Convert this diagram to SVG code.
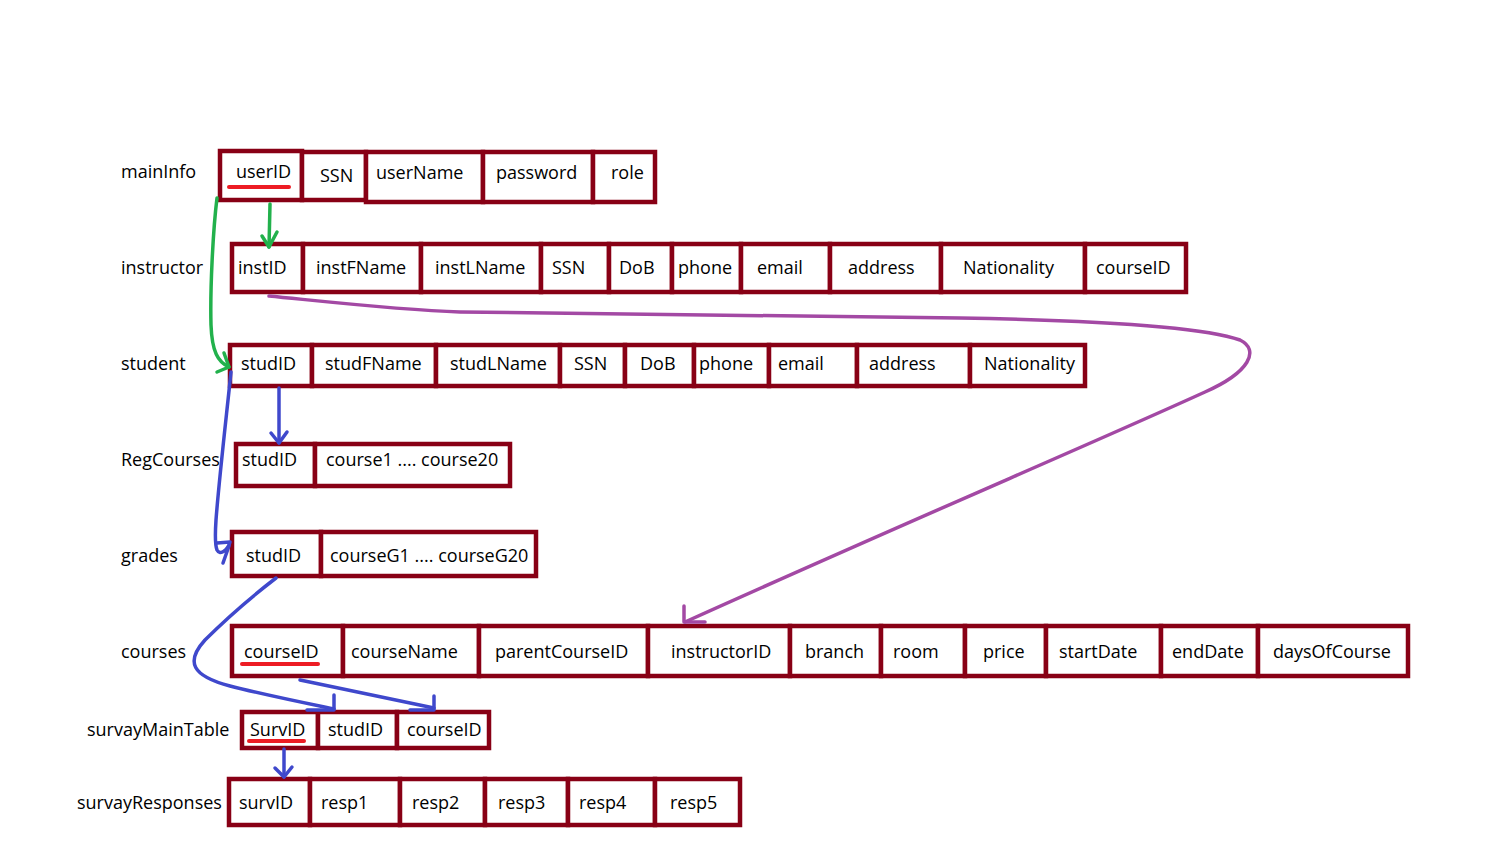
<svg xmlns="http://www.w3.org/2000/svg" width="1496" height="857" viewBox="0 0 1496 857">
  <style>
    .cell { fill: #ffffff; stroke: #880015; stroke-width: 4.5; }
    .lbl { font-family: "Open Sans", "Noto Sans", "DejaVu Sans", sans-serif; font-size: 18px; fill: #000000; }
    .key { stroke: #ed1c24; stroke-width: 4; stroke-linecap: round; fill: none; }
    .green { stroke: #22b14c; stroke-width: 3.5; fill: none; stroke-linecap: round; stroke-linejoin: round; }
    .purple { stroke: #a349a4; stroke-width: 3.5; fill: none; stroke-linecap: round; stroke-linejoin: round; }
    .blue { stroke: #3f48cc; stroke-width: 3.5; fill: none; stroke-linecap: round; stroke-linejoin: round; }
  </style>
  <rect width="1496" height="857" fill="#ffffff"/>

  <!-- table names -->
  <g id="table-names" class="lbl">
    <text x="121" y="178">mainInfo</text>
    <text x="121" y="274">instructor</text>
    <text x="121" y="370">student</text>
    <text x="121" y="466">RegCourses</text>
    <text x="121" y="562">grades</text>
    <text x="121" y="658">courses</text>
    <text x="87" y="736">survayMainTable</text>
    <text x="77" y="809">survayResponses</text>
  </g>

  <g id="mainInfo">
    <rect class="cell" x="220" y="151" width="82" height="49"/>
    <rect class="cell" x="302" y="152" width="64" height="48"/>
    <rect class="cell" x="366" y="152" width="117" height="50"/>
    <rect class="cell" x="483" y="152" width="110" height="50"/>
    <rect class="cell" x="593" y="152" width="62" height="50"/>
    <g class="lbl">
      <text x="236" y="178">userID</text>
      <text x="320" y="182">SSN</text>
      <text x="376" y="179">userName</text>
      <text x="496" y="179">password</text>
      <text x="611" y="179">role</text>
    </g>
    <line class="key" x1="229" y1="187" x2="289" y2="187"/>
  </g>

  <g id="instructor">
    <rect class="cell" x="232" y="244" width="71" height="48"/>
    <rect class="cell" x="303" y="244" width="118" height="48"/>
    <rect class="cell" x="421" y="244" width="120" height="48"/>
    <rect class="cell" x="541" y="244" width="68" height="48"/>
    <rect class="cell" x="609" y="244" width="63" height="48"/>
    <rect class="cell" x="672" y="244" width="69" height="48"/>
    <rect class="cell" x="741" y="244" width="89" height="48"/>
    <rect class="cell" x="830" y="244" width="111" height="48"/>
    <rect class="cell" x="941" y="244" width="144" height="48"/>
    <rect class="cell" x="1085" y="244" width="101" height="48"/>
    <g class="lbl">
      <text x="238" y="274">instID</text>
      <text x="316" y="274">instFName</text>
      <text x="435" y="274">instLName</text>
      <text x="552" y="274">SSN</text>
      <text x="619" y="274">DoB</text>
      <text x="678" y="274">phone</text>
      <text x="757" y="274">email</text>
      <text x="848" y="274">address</text>
      <text x="963" y="274">Nationality</text>
      <text x="1096" y="274">courseID</text>
    </g>
  </g>

  <g id="student">
    <rect class="cell" x="230" y="345" width="82" height="41"/>
    <rect class="cell" x="312" y="345" width="124" height="41"/>
    <rect class="cell" x="436" y="345" width="124" height="41"/>
    <rect class="cell" x="560" y="345" width="65" height="41"/>
    <rect class="cell" x="625" y="345" width="69" height="41"/>
    <rect class="cell" x="694" y="345" width="75" height="41"/>
    <rect class="cell" x="769" y="345" width="88" height="41"/>
    <rect class="cell" x="857" y="345" width="113" height="41"/>
    <rect class="cell" x="970" y="345" width="115" height="41"/>
    <g class="lbl">
      <text x="241" y="370">studID</text>
      <text x="325" y="370">studFName</text>
      <text x="450" y="370">studLName</text>
      <text x="574" y="370">SSN</text>
      <text x="640" y="370">DoB</text>
      <text x="699" y="370">phone</text>
      <text x="778" y="370">email</text>
      <text x="869" y="370">address</text>
      <text x="984" y="370">Nationality</text>
    </g>
  </g>

  <g id="RegCourses">
    <rect class="cell" x="236" y="444" width="79" height="42"/>
    <rect class="cell" x="315" y="444" width="195" height="42"/>
    <g class="lbl">
      <text x="242" y="466">studID</text>
      <text x="326" y="466">course1 .... course20</text>
    </g>
  </g>

  <g id="grades">
    <rect class="cell" x="232" y="532" width="89" height="44"/>
    <rect class="cell" x="321" y="532" width="215" height="44"/>
    <g class="lbl">
      <text x="246" y="562">studID</text>
      <text x="330" y="562">courseG1 .... courseG20</text>
    </g>
  </g>

  <g id="courses">
    <rect class="cell" x="232" y="626" width="111" height="50"/>
    <rect class="cell" x="343" y="626" width="136" height="50"/>
    <rect class="cell" x="479" y="626" width="169" height="50"/>
    <rect class="cell" x="648" y="626" width="142" height="50"/>
    <rect class="cell" x="790" y="626" width="91" height="50"/>
    <rect class="cell" x="881" y="626" width="84" height="50"/>
    <rect class="cell" x="965" y="626" width="81" height="50"/>
    <rect class="cell" x="1046" y="626" width="115" height="50"/>
    <rect class="cell" x="1161" y="626" width="97" height="50"/>
    <rect class="cell" x="1258" y="626" width="150" height="50"/>
    <g class="lbl">
      <text x="244" y="658">courseID</text>
      <text x="351" y="658">courseName</text>
      <text x="495" y="658">parentCourseID</text>
      <text x="671" y="658">instructorID</text>
      <text x="805" y="658">branch</text>
      <text x="893" y="658">room</text>
      <text x="983" y="658">price</text>
      <text x="1059" y="658">startDate</text>
      <text x="1172" y="658">endDate</text>
      <text x="1273" y="658">daysOfCourse</text>
    </g>
    <line class="key" x1="242" y1="664" x2="318" y2="664"/>
  </g>

  <g id="survayMainTable">
    <rect class="cell" x="242" y="712" width="76" height="36"/>
    <rect class="cell" x="318" y="712" width="79" height="36"/>
    <rect class="cell" x="397" y="712" width="92" height="36"/>
    <g class="lbl">
      <text x="250" y="736">SurvID</text>
      <text x="328" y="736">studID</text>
      <text x="407" y="736">courseID</text>
    </g>
    <line class="key" x1="249" y1="741" x2="304" y2="741"/>
  </g>

  <g id="survayResponses">
    <rect class="cell" x="229" y="779" width="81" height="46"/>
    <rect class="cell" x="310" y="779" width="90" height="46"/>
    <rect class="cell" x="400" y="779" width="85" height="46"/>
    <rect class="cell" x="485" y="779" width="83" height="46"/>
    <rect class="cell" x="568" y="779" width="87" height="46"/>
    <rect class="cell" x="655" y="779" width="85" height="46"/>
    <g class="lbl">
      <text x="239" y="809">survID</text>
      <text x="321" y="809">resp1</text>
      <text x="412" y="809">resp2</text>
      <text x="498" y="809">resp3</text>
      <text x="579" y="809">resp4</text>
      <text x="670" y="809">resp5</text>
    </g>
  </g>

  <g id="connectors">
    <!-- mainInfo.userID -> instructor.instID -->
    <path class="green" d="M270 204 L269 247"/>
    <path class="green" d="M262 236 L269 247 L277 232"/>
    <!-- mainInfo.userID -> student.studID -->
    <path class="green" d="M217 198 C213 230 210 290 211 325 C212 352 218 362 229 367"/>
    <path class="green" d="M224 353 L229 367 L217 372"/>
    <!-- instructor.instID -> courses.instructorID -->
    <path class="purple" d="M269 296 C330 302 400 310 460 312 C600 314 780 316 960 318 C1080 320 1200 326 1240 340 C1260 350 1250 372 1205 392 C1100 440 900 525 685 622"/>
    <path class="purple" d="M684 606 L684 622 L705 622"/>
    <!-- student.studID -> RegCourses.studID -->
    <path class="blue" d="M279 388 L279 443"/>
    <path class="blue" d="M271 433 L279 443 L287 432"/>
    <!-- student.studID -> grades.studID -->
    <path class="blue" d="M231 372 C226 420 219 480 216 520 C215 535 215 545 217 550 C220 556 228 550 230 542 L217 543"/>
    <path class="blue" d="M229 546 L223 563"/>
    <!-- grades.studID -> survayMainTable.studID -->
    <path class="blue" d="M276 578 C250 598 225 620 205 640 C185 662 192 676 230 686 C265 695 300 702 334 709"/>
    <path class="blue" d="M307 710 L334 710 L334 695"/>
    <!-- courses.courseID -> survayMainTable.courseID -->
    <path class="blue" d="M300 680 L434 708"/>
    <path class="blue" d="M410 710 L434 710 L434 696"/>
    <!-- survayMainTable.SurvID -> survayResponses.survID -->
    <path class="blue" d="M284 749 L284 777"/>
    <path class="blue" d="M275 768 L284 777 L292 767"/>
  </g>
</svg>
